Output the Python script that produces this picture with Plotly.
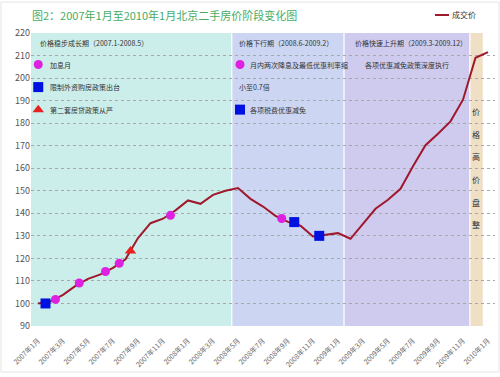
import plotly.graph_objects as go

# ---- data ----
month_index = list(range(37))  # 2007-01 .. 2010-01
prices = [100.0, 100.9, 103.8, 107.8, 110.9, 112.9, 115.8, 119.6, 129.0, 135.6,
          137.6, 141.3, 145.7, 144.2, 148.2, 150.0, 151.2, 146.4, 143.0, 138.9,
          136.2, 134.5, 129.7, 130.4, 131.2, 128.7, 135.3, 142.0, 146.0, 150.9,
          160.9, 170.2, 175.3, 180.8, 190.4, 209.0, 211.5]
tick_pos = list(range(0, 37, 2))
tick_labels = ["2007年1月", "2007年3月", "2007年5月", "2007年7月", "2007年9月", "2007年11月",
               "2008年1月", "2008年3月", "2008年5月", "2008年7月", "2008年9月", "2008年11月",
               "2009年1月", "2009年3月", "2009年5月", "2009年7月", "2009年9月", "2009年11月",
               "2010年1月"]

hike_x = [1.4, 3.3, 5.4, 6.5, 10.6]
hike_y = [101.8, 109.1, 114.2, 117.8, 139.1]
cut_x = [19.5]
cut_y = [137.7]
foreign_x = [0.6]
foreign_y = [100.0]
tax_x = [20.5, 22.5]
tax_y = [136.1, 130.0]
second_x = [7.4]
second_y = [123.3]

# phases: (start, end, colour)
phase_start = [-0.56, 15.55, 24.53, 34.6]
phase_end = [15.45, 24.43, 34.5, 35.58]
phase_colors = ["#cbeeea", "#ccd6f2", "#cfcbef", "#efdfc5"]

LINE = "#a0182c"
MAG = "#e020e0"
BLUE = "#0010e0"
RED = "#e82020"
FONT = "Noto Sans CJK SC"

fig = go.Figure()
fig.add_trace(go.Scatter(x=month_index, y=prices, mode="lines",
                         line=dict(color=LINE, width=2), name="成交价", showlegend=False))
fig.add_trace(go.Scatter(x=hike_x + cut_x, y=hike_y + cut_y, mode="markers",
                         marker=dict(symbol="circle", size=9, color=MAG), showlegend=False))
fig.add_trace(go.Scatter(x=foreign_x + tax_x, y=foreign_y + tax_y, mode="markers",
                         marker=dict(symbol="square", size=10, color=BLUE), showlegend=False))
fig.add_trace(go.Scatter(x=second_x, y=second_y, mode="markers",
                         marker=dict(symbol="triangle-up", size=10, color=RED), showlegend=False))

# legend icons inside the phase boxes
fig.add_trace(go.Scatter(x=[0.02, 16.16], y=[206, 206], mode="markers", hoverinfo="skip",
                         marker=dict(symbol="circle", size=9, color=MAG), showlegend=False))
fig.add_trace(go.Scatter(x=[0.02, 16.16], y=[196, 186], mode="markers", hoverinfo="skip",
                         marker=dict(symbol="square", size=10, color=BLUE), showlegend=False))
fig.add_trace(go.Scatter(x=[0.02], y=[186], mode="markers", hoverinfo="skip",
                         marker=dict(symbol="triangle-up", size=10, color=RED), showlegend=False))

shapes = []
for s, e, c in zip(phase_start, phase_end, phase_colors):
    shapes.append(dict(type="rect", xref="x", yref="y", x0=s, x1=e, y0=90, y1=220,
                       fillcolor=c, line=dict(width=0), layer="below"))
# outer frame
shapes.append(dict(type="rect", xref="paper", yref="paper",
                   x0=(1 - 31) / 464, x1=(499 - 31) / 464,
                   y0=(326 - 372) / 293, y1=(326 - 2) / 293,
                   line=dict(color="#e4e4e4", width=1), fillcolor="rgba(0,0,0,0)", layer="below"))
# legend line sample
shapes.append(dict(type="line", xref="paper", yref="paper",
                   x0=(435 - 31) / 464, x1=(449 - 31) / 464,
                   y0=(326 - 15) / 293, y1=(326 - 15) / 293,
                   line=dict(color=LINE, width=2)))

ann = []
def txt(x, y, t, size=7, xanchor="left"):
    ann.append(dict(x=x, y=y, xref="x", yref="y", text=t, showarrow=False,
                    xanchor=xanchor, yanchor="middle", font=dict(size=size, color="#333", family=FONT)))

txt(0.0, 215.6, "价格稳步成长期（2007.1-2008.5）")
txt(0.8, 206, "加息月")
txt(0.8, 196, "限制外资购房政策出台")
txt(0.8, 186, "第二套房贷政策从严")
txt(15.94, 215.6, "价格下行期（2008.6-2009.2）")
txt(16.8, 206, "月内两次降息及最低优惠利率缩")
txt(15.94, 196, "小至0.7倍")
txt(16.8, 186, "各项税费优惠减免")
txt(25.18, 215.6, "价格快速上升期（2009.3-2009.12）")
txt(25.98, 206, "各项优惠减免政策深度执行")
for ch, yy in zip(["价", "格", "高", "价", "盘", "整"], [185, 175, 165, 155, 145, 135]):
    txt(35.07, yy, ch, size=8, xanchor="center")

ann.append(dict(x=(30 - 31) / 464, y=(326 - 15) / 293, xref="paper", yref="paper",
                text="图2：2007年1月至2010年1月北京二手房价阶段变化图", showarrow=False,
                xanchor="left", yanchor="middle",
                font=dict(size=11, color="#45ad62", family=FONT)))
ann.append(dict(x=(450 - 31) / 464, y=(326 - 15) / 293, xref="paper", yref="paper",
                text="成交价", showarrow=False, xanchor="left", yanchor="middle",
                font=dict(size=8, color="#333", family=FONT)))

fig.update_layout(
    width=500, height=377,
    margin=dict(l=31, r=5, t=33, b=51, autoexpand=False),
    paper_bgcolor="white", plot_bgcolor="white",
    shapes=shapes, annotations=ann,
    font=dict(family=FONT, color="#555"),
    xaxis=dict(range=[-0.56, 36.56], tickvals=tick_pos, ticktext=tick_labels,
               tickangle=-45, showgrid=False, zeroline=False, showline=False, automargin=False,
               ticks="outside", ticklen=7, tickcolor="rgba(0,0,0,0)",
               tickfont=dict(size=7, color="#666"), fixedrange=True),
    yaxis=dict(range=[90, 220], dtick=10, tick0=90, showgrid=True, gridcolor="#a8a8a8",
               griddash="dot", gridwidth=1, zeroline=False, showline=False, automargin=False,
               tickfont=dict(size=9, color="#555"), ticks="", fixedrange=True),
)

fig.write_html("out.html", config={"displayModeBar": False},
               post_script="document.body.style.margin='0';document.body.style.overflow='hidden';")
